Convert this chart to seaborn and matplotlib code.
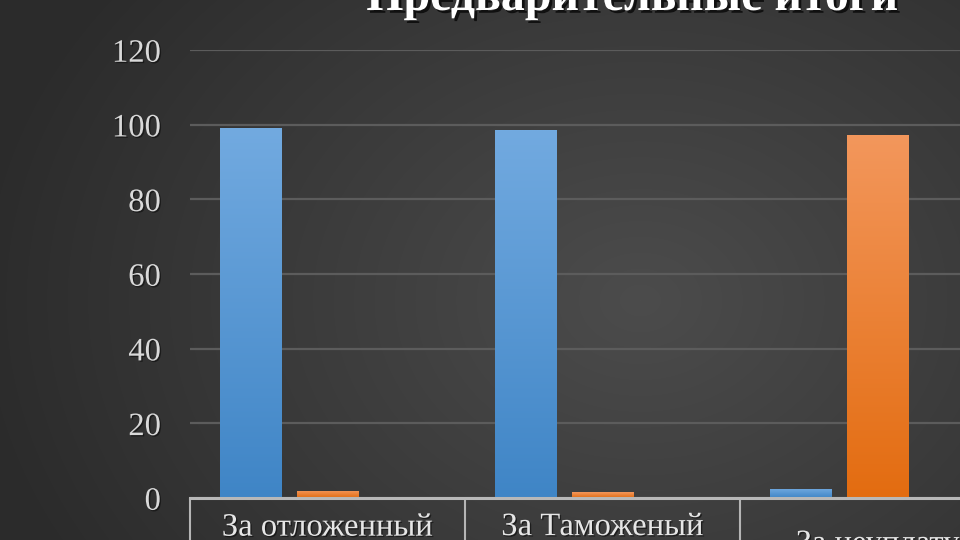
import numpy as np
import pandas as pd
import matplotlib
matplotlib.use("Agg")
import matplotlib.pyplot as plt
import matplotlib.patheffects as pe
from matplotlib.colors import LinearSegmentedColormap, to_hex
import seaborn as sns

# ---- data ----
categories = ["За отложенный\nналог", "За Таможеный\nсбор", "За неуплату"]
series_names = ["Ряд 1", "Ряд 2", "Ряд 3"]
series1 = [99, 98.5, 2.5]
series2 = [1.9, 1.5, 97.2]
series3 = [0, 0, 0]
y_ticks = [0, 20, 40, 60, 80, 100, 120]
title_text = "Предварительные итоги"

df = pd.DataFrame({
    "category": categories * 3,
    "series": [series_names[0]] * 3 + [series_names[1]] * 3 + [series_names[2]] * 3,
    "value": series1 + series2 + series3,
})

sns.set_theme(style="dark")
plt.rcParams["font.family"] = ["Liberation Serif", "DejaVu Serif"]

palette = {"Ряд 1": "#5797d6", "Ряд 2": "#ec8038", "Ряд 3": "#a5a5a5"}
grad = {
    to_hex("#5797d6"): ("#3f85c6", "#72aae0"),
    to_hex("#ec8038"): ("#e36c10", "#f3975c"),
}

fig = plt.figure(figsize=(9.6, 5.4), dpi=100)

# background radial gradient
bg = fig.add_axes([0, 0, 1, 1], zorder=-5)
yy, xx = np.mgrid[0:540, 0:960]
r = np.sqrt(((xx - 640) / 900) ** 2 + ((yy - 300) / 700) ** 2)
r = np.clip(r / 0.75, 0, 1)
c0 = np.array([0x4c, 0x4c, 0x4c]) / 255
c1 = np.array([0x2b, 0x2b, 0x2b]) / 255
img = c0[None, None, :] * (1 - r[..., None]) + c1[None, None, :] * r[..., None]
bg.imshow(img, extent=(0, 1, 0, 1), aspect="auto", origin="upper")
bg.set_axis_off()

ax = fig.add_axes([190 / 960, 42 / 540, 825 / 960, 448 / 540])
ax.set_facecolor("none")

sns.barplot(data=df, x="category", y="value", hue="series", order=categories,
            hue_order=series_names, palette=palette, saturation=1, width=0.834, gap=0.19,
            legend=False, ax=ax, zorder=3, linewidth=0)

# gradient fill for bars
for p in list(ax.patches):
    h = p.get_height()
    if h <= 0:
        continue
    key = to_hex(p.get_facecolor())
    if key not in grad:
        continue
    lo, hi = grad[key]
    cmap = LinearSegmentedColormap.from_list("g", [lo, hi])
    x0, w = p.get_x(), p.get_width()
    im = ax.imshow(np.linspace(0, 1, 256).reshape(-1, 1), extent=(x0, x0 + w, 0, h),
                   origin="lower", cmap=cmap, aspect="auto", zorder=3.5)
    im.set_clip_path(p)
    p.set_path_effects([pe.SimplePatchShadow(offset=(0, 0), shadow_rgbFace="#1a1a1a", alpha=0.6), pe.Normal()])

ax.set_xlim(-0.5, 2.5)
ax.set_ylim(0, 120)
ax.set_yticks(y_ticks)
ax.set_yticklabels([str(t) for t in y_ticks])
ax.yaxis.grid(True, color="#5c5c5c", linewidth=1.6, zorder=0)
ax.xaxis.grid(False)
ax.set_axisbelow(True)

ax.set_xticks([-0.5, 0.5, 1.5, 2.5])
ax.set_xticklabels([])
ax.set_xticks([0, 1, 2], minor=True)
ax.set_xticklabels(categories, minor=True, va="center", linespacing=1.1)
ax.tick_params(axis="x", which="major", bottom=True, length=40, width=1.5, color="#b5b5b5", direction="out")
ax.tick_params(axis="x", which="minor", bottom=True, length=0, pad=33, labelsize=23.5, labelcolor="#e6e6e6")
ax.tick_params(axis="y", length=0, pad=21, labelsize=23.5, labelcolor="#d9d9d9")
ax.set_xlabel("")
ax.set_ylabel("")

for s in ["left", "right", "top"]:
    ax.spines[s].set_visible(False)
ax.spines["bottom"].set_visible(True)
ax.spines["bottom"].set_color("#b8b8b8")
ax.spines["bottom"].set_linewidth(2.2)
ax.spines["bottom"].set_zorder(4)

shadow = [pe.SimplePatchShadow(offset=(1, -1), shadow_rgbFace="#111111", alpha=0.7), pe.Normal()]
for lab in ax.get_yticklabels() + ax.get_xticklabels(minor=True):
    lab.set_path_effects(shadow)

fig.text(632 / 960, 530 / 540, title_text, ha="center", va="baseline", fontsize=34.5,
         fontweight="bold", color="white",
         path_effects=[pe.SimplePatchShadow(offset=(2, -2), shadow_rgbFace="#000000", alpha=0.7), pe.Normal()])

fig.savefig("out.png", dpi=100)
